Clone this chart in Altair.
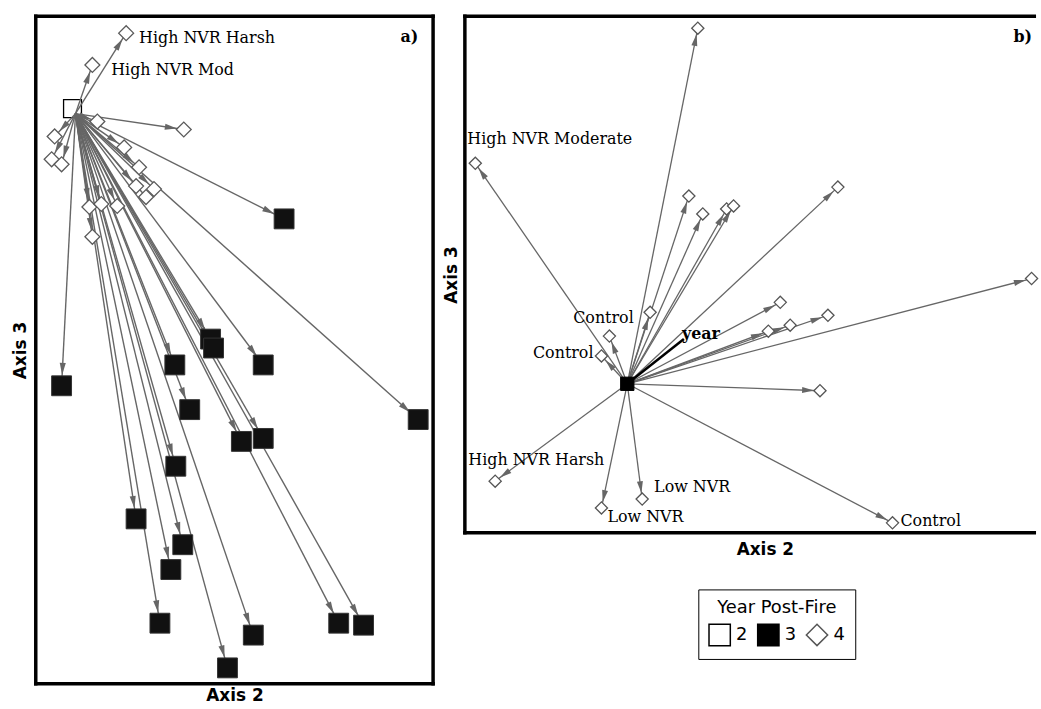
import math
import altair as alt
import pandas as pd

# ---------------- Panel a) ordination scores ----------------
a_year2_x = [-0.03]
a_year2_y = [0.05]
a_origin = [0.0, 0.0]   # common start of the successional vectors

a_year3_x = [2.10, -0.14, 1.36, 1.39, 1.00, 1.89, 1.15, 3.45, 1.67, 1.89,
             1.01, 0.61, 1.08, 0.96, 0.85, 1.79, 2.65, 2.90, 1.53]
a_year3_y = [-1.06, -2.74, -2.27, -2.36, -2.53, -2.53, -2.98, -3.08, -3.30, -3.27,
             -3.55, -4.08, -4.34, -4.59, -5.13, -5.25, -5.13, -5.15, -5.58]

a_year4_x = [0.51, 0.17, 0.22, 1.09, -0.21, -0.24, -0.14, 0.49, 0.64, 0.61,
             0.79, 0.71, 0.14, 0.26, 0.42, 0.17]
a_year4_y = [0.81, 0.49, -0.08, -0.16, -0.23, -0.46, -0.51, -0.34, -0.54, -0.73,
             -0.76, -0.84, -0.94, -0.91, -0.93, -1.24]
a_labels = ["High NVR Harsh", "High NVR Mod"]   # first two year-4 points

# ---------------- Panel b) ordination scores ----------------
b_origin = [0.0, 0.0]
b_year4_x = [0.71, -1.53, 0.62, 0.76, 1.00, 1.07, 2.12, 4.07, 1.54, 2.02,
             1.64, 1.42, 1.94, 2.67, -0.18, -0.26, 0.23, -1.33, 0.15, -0.26]
b_year4_y = [3.58, 2.22, 1.89, 1.71, 1.76, 1.79, 1.98, 1.06, 0.82, 0.69,
             0.59, 0.53, -0.07, -1.40, 0.48, 0.28, 0.72, -0.98, -1.16, -1.25]
b_year4_label = ["", "High NVR Moderate", "", "", "", "", "", "", "", "",
                 "", "", "", "Control", "Control", "Control", "", "High NVR Harsh",
                 "Low NVR", "Low NVR"]
b_year_vector = [0.57, 0.45]

years = ["2", "3", "4"]
year_shapes = ["square", "square", "diamond"]
year_fills = ["white", "black", "white"]
year_strokes = ["black", "black", "#555555"]

# ---------------- layout constants ----------------
WA, HA = 400, 672
XA, YA = [-0.40, 3.60], [-5.74, 0.98]
WB, HB = 572, 520
XB, YB = [-1.635, 4.085], [-1.50, 3.70]
PAD_L, PAD_T = 12, 10
FRAME = 3.5

GRAY = "#666666"
SERIF = "DejaVu Serif"
SANS = "DejaVu Sans"
ARROW = "M0,-1L0.5,1L-0.5,1Z"
LABEL_SIZE = 16


def segments(x0, y0, xs, ys, kx, ky, back):
    rows = []
    for x1, y1 in zip(xs, ys):
        sx = (x1 - x0) * kx
        sy = -(y1 - y0) * ky
        L = math.hypot(sx, sy) or 1.0
        ux, uy = sx / L, sy / L
        d = back + 6
        rows.append(dict(x=x0, y=y0, x2=x1, y2=y1,
                         hx=x1 - d * ux / kx, hy=y1 + d * uy / ky,
                         ang=math.degrees(math.atan2(ux, -uy)) % 360))
    return rows


def axis(title, pad, **kw):
    return alt.Axis(title=title, labels=False, ticks=False, domain=False, grid=False,
                    titleFont=SANS, titleFontSize=17, titleFontWeight="bold",
                    titleColor="black", titlePadding=pad, **kw)


frame_df = pd.DataFrame({"k": [0]})


def frame(w, h, right=True):
    half = FRAME / 2
    xr = w + half if right else w + 3
    parts = [
        alt.Chart(frame_df).mark_rule(color="black", strokeWidth=FRAME).encode(
            x=alt.value(-half), x2=alt.value(xr), y=alt.value(0)),
        alt.Chart(frame_df).mark_rule(color="black", strokeWidth=FRAME).encode(
            x=alt.value(-half), x2=alt.value(xr), y=alt.value(h)),
        alt.Chart(frame_df).mark_rule(color="black", strokeWidth=FRAME).encode(
            x=alt.value(0), y=alt.value(-half), y2=alt.value(h + half)),
    ]
    if right:
        parts.append(alt.Chart(frame_df).mark_rule(color="black", strokeWidth=FRAME).encode(
            x=alt.value(w), y=alt.value(-half), y2=alt.value(h + half)))
    return parts


# ---------- panel a ----------
kxa, kya = WA / (XA[1] - XA[0]), HA / (YA[1] - YA[0])
seg_a = pd.DataFrame(
    segments(a_origin[0], a_origin[1], a_year3_x, a_year3_y, kxa, kya, 11)
    + segments(a_origin[0], a_origin[1], a_year4_x, a_year4_y, kxa, kya, 7))

AXA_X = axis("Axis 2", 4)
AXA_Y = axis("Axis 3", 6)
SXA = alt.Scale(domain=XA, nice=False, zero=False)
SYA = alt.Scale(domain=YA, nice=False, zero=False)


def pa(xf="x", yf="y"):
    return dict(x=alt.X(f"{xf}:Q", scale=SXA, axis=AXA_X),
                y=alt.Y(f"{yf}:Q", scale=SYA, axis=AXA_Y))


y2a = alt.Chart(pd.DataFrame({"x": a_year2_x, "y": a_year2_y})).mark_point(
    shape="square", size=324, filled=False, stroke="black", strokeWidth=1.3, opacity=1
).encode(**pa())

rules_a = alt.Chart(seg_a).mark_rule(color=GRAY, strokeWidth=1.4).encode(
    x2="x2:Q", y2="y2:Q", **pa())

heads_a = alt.Chart(seg_a).mark_point(shape=ARROW, size=150, filled=True, color=GRAY,
                                      opacity=1).encode(
    angle=alt.Angle("ang:Q", scale=None), **pa("hx", "hy"))

y4a = alt.Chart(pd.DataFrame({"x": a_year4_x, "y": a_year4_y})).mark_point(
    shape="diamond", size=225, filled=True, fill="white", stroke="#5a5a5a",
    strokeWidth=1.3, opacity=1).encode(**pa())

y3a = alt.Chart(pd.DataFrame({"x": a_year3_x, "y": a_year3_y})).mark_point(
    shape="square", size=400, filled=True, fill="#111111", stroke="#333333",
    strokeWidth=1, opacity=1).encode(**pa())

lab_a_layers = []
for i, (txt, dx, dy) in enumerate(zip(a_labels, [13, 19], [5, 5])):
    lab_a_layers.append(
        alt.Chart(pd.DataFrame({"x": [a_year4_x[i]], "y": [a_year4_y[i]], "t": [txt]}))
        .mark_text(align="left", baseline="middle", dx=dx, dy=dy, font=SERIF,
                   fontSize=LABEL_SIZE, color="black")
        .encode(text="t:N", **pa()))

tag_a = alt.Chart(pd.DataFrame({"t": ["a)"]})).mark_text(
    align="right", baseline="middle", font=SERIF, fontSize=16, fontWeight="bold",
    color="black").encode(x=alt.value(385), y=alt.value(21), text="t:N")

panel_a = alt.layer(y2a, rules_a, heads_a, y4a, y3a, *lab_a_layers, tag_a,
                    *frame(WA, HA)).properties(width=WA, height=HA)

# ---------- panel b ----------
kxb, kyb = WB / (XB[1] - XB[0]), HB / (YB[1] - YB[0])
seg_b = pd.DataFrame(segments(b_origin[0], b_origin[1], b_year4_x, b_year4_y, kxb, kyb, 6))
vec_b = pd.DataFrame({"x": [b_origin[0]], "y": [b_origin[1]],
                      "x2": [b_year_vector[0]], "y2": [b_year_vector[1]], "t": ["year"]})

AXB_X = axis("Axis 2", 9, titleX=302)
AXB_Y = axis("Axis 3", 4)
SXB = alt.Scale(domain=XB, nice=False, zero=False)
SYB = alt.Scale(domain=YB, nice=False, zero=False)


def pb(xf="x", yf="y"):
    return dict(x=alt.X(f"{xf}:Q", scale=SXB, axis=AXB_X),
                y=alt.Y(f"{yf}:Q", scale=SYB, axis=AXB_Y))


legend = alt.Legend(title="Year Post-Fire", orient="none",
                    legendX=703 - 36, legendY=588 - 11,
                    direction="horizontal", titleAnchor="middle", titleFont=SANS,
                    titleFontSize=18, titleFontWeight="normal", titleColor="black",
                    labelFont=SANS, labelFontSize=18, labelColor="black",
                    symbolSize=460, symbolStrokeWidth=1.5, strokeColor="black",
                    padding=10, labelOffset=5, columnPadding=6, titlePadding=6)


def year_enc():
    return dict(
        shape=alt.Shape("year:N", scale=alt.Scale(domain=years, range=year_shapes),
                        legend=legend, title="Year Post-Fire"),
        fill=alt.Fill("year:N", scale=alt.Scale(domain=years, range=year_fills),
                      legend=legend, title="Year Post-Fire"),
        stroke=alt.Stroke("year:N", scale=alt.Scale(domain=years, range=year_strokes),
                          legend=legend, title="Year Post-Fire"),
    )


rules_b = alt.Chart(seg_b).mark_rule(color=GRAY, strokeWidth=1.3).encode(
    x2="x2:Q", y2="y2:Q", **pb())

heads_b = alt.Chart(seg_b).mark_point(shape=ARROW, size=144, filled=True, color=GRAY,
                                      opacity=1).encode(
    angle=alt.Angle("ang:Q", scale=None), **pb("hx", "hy"))

vec_rule = alt.Chart(vec_b).mark_rule(color="black", strokeWidth=2.5).encode(
    x2="x2:Q", y2="y2:Q", **pb())
vec_text = alt.Chart(vec_b).mark_text(align="left", baseline="middle", dx=-2, dy=-5,
                                      font=SERIF, fontSize=LABEL_SIZE, fontWeight="bold",
                                      color="black").encode(text="t:N", **pb("x2", "y2"))

y4b = alt.Chart(pd.DataFrame({"x": b_year4_x, "y": b_year4_y, "year": "4"})).mark_point(
    size=150, filled=True, strokeWidth=1.3, opacity=1).encode(**pb(), **year_enc())

ob = alt.Chart(pd.DataFrame({"x": [b_origin[0]], "y": [b_origin[1]], "year": ["3"]})).mark_point(
    size=180, filled=True, strokeWidth=1, opacity=1).encode(**pb(), **year_enc())

offs = {
    "High NVR Moderate": [("left", -8, -24)],
    "Control": [("left", 8, -2), ("center", -6, -18), ("right", -8, -3)],
    "High NVR Harsh": [("left", -27, -21)],
    "Low NVR": [("left", 12, -12), ("left", 6, 9)],
}
seen = {}
lab_b_layers = []
for i, txt in enumerate(b_year4_label):
    if not txt:
        continue
    k = seen.get(txt, 0)
    seen[txt] = k + 1
    al, dx, dy = offs[txt][k]
    lab_b_layers.append(
        alt.Chart(pd.DataFrame({"x": [b_year4_x[i]], "y": [b_year4_y[i]], "t": [txt]}))
        .mark_text(align=al, baseline="middle", dx=dx, dy=dy, font=SERIF,
                   fontSize=LABEL_SIZE, color="black")
        .encode(text="t:N", **pb()))

tag_b = alt.Chart(pd.DataFrame({"t": ["b)"]})).mark_text(
    align="right", baseline="middle", font=SERIF, fontSize=16, fontWeight="bold",
    color="black").encode(x=alt.value(571), y=alt.value(21), text="t:N")

panel_b = alt.layer(rules_b, heads_b, vec_rule, y4b, ob, vec_text, *lab_b_layers,
                    tag_b, *frame(WB, HB, right=False)).properties(width=WB, height=HB)

chart = alt.hconcat(panel_a, panel_b, spacing=6).properties(
    padding={"left": PAD_L, "top": PAD_T, "right": 0, "bottom": 0},
    background="white",
).configure_view(stroke="transparent", strokeWidth=0)

chart.save("out.html", embed_options={"renderer": "svg", "actions": False})
